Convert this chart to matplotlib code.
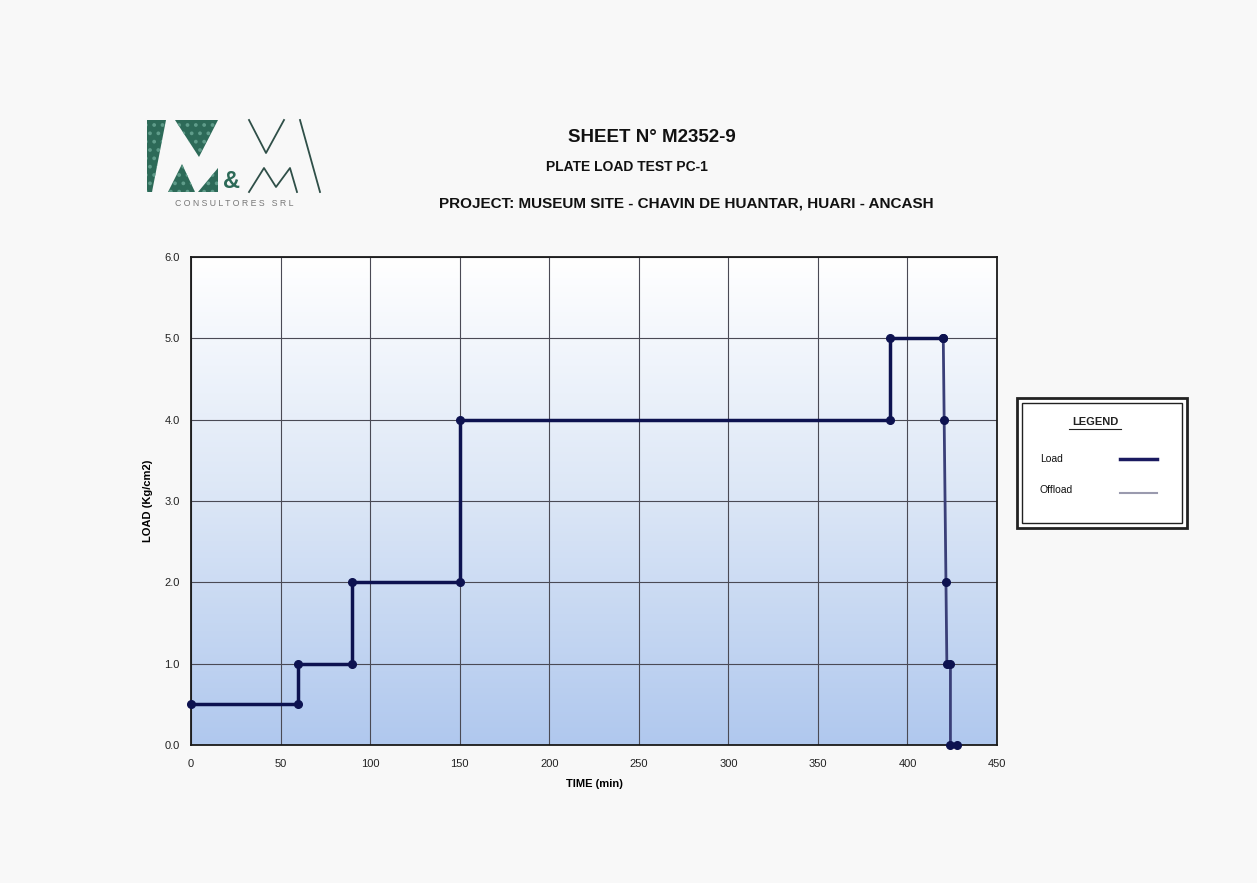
import matplotlib
matplotlib.use("Agg")
import matplotlib.pyplot as plt
import numpy as np
from matplotlib.patches import Polygon, Rectangle
from matplotlib.lines import Line2D
from matplotlib.colors import LinearSegmentedColormap

plt.rcParams['font.family'] = ['Liberation Sans', 'DejaVu Sans']
plt.rcParams['hatch.linewidth'] = 1.5

# Data
load_time = [0, 60, 60, 90, 90, 150, 150, 390, 390, 420]
load_value = [0.5, 0.5, 1.0, 1.0, 2.0, 2.0, 4.0, 4.0, 5.0, 5.0]
offload_time = [420, 420.5, 421.5, 422, 424, 424, 427.5]
offload_value = [5.0, 4.0, 2.0, 1.0, 1.0, 0.0, 0.0]
x_ticks = [0, 50, 100, 150, 200, 250, 300, 350, 400, 450]
y_ticks = [0.0, 1.0, 2.0, 3.0, 4.0, 5.0, 6.0]

W, H = 1257, 883
fig = plt.figure(figsize=(W / 100, H / 100), dpi=100)
fig.patch.set_facecolor('#f8f8f8')

def fx(x):
    return x / W

def fy(y):
    return 1 - y / H

ax = fig.add_axes([fx(191), fy(745), (997 - 191) / W, (745 - 257) / H])
ax.set_xlim(0, 450)
ax.set_ylim(0, 6)

# gradient background
grad = np.linspace(0, 1, 256).reshape(-1, 1)
cmap = LinearSegmentedColormap.from_list('bg', ['#b0c8ee', '#dbe6f6', '#ffffff'])
ax.imshow(grad, extent=[0, 450, 0, 6], origin='lower', aspect='auto', cmap=cmap, zorder=0)

ax.set_xticks(x_ticks)
ax.set_yticks(y_ticks)
ax.set_yticklabels([f"{v:.1f}" for v in y_ticks])
ax.grid(True, color='#4a4a55', linewidth=0.8, zorder=1)
ax.tick_params(length=0, labelsize=8, colors='#222222')
ax.tick_params(axis='x', pad=10)
ax.tick_params(axis='y', pad=8)
for s in ax.spines.values():
    s.set_color('#1a1a1a')
    s.set_linewidth(1.3)

ax.plot(load_time, load_value, color='#0d1250', linewidth=2.5, marker='o',
        markersize=5.5, zorder=3, clip_on=False)
ax.plot(offload_time, offload_value, color='#3a3f78', linewidth=2, marker='o',
        markersize=5.5, markerfacecolor='#0d1250', markeredgecolor='#0d1250',
        zorder=3, clip_on=False)

ax.set_xlabel('TIME (min)', fontsize=8, fontweight='bold', labelpad=7)
ax.set_ylabel('LOAD (Kg/cm2)', fontsize=8, fontweight='bold', labelpad=8)

# Titles
fig.text(fx(652), fy(138), 'SHEET N° M2352-9', ha='center', va='center',
         fontsize=13.5, fontweight='bold', color='#111111')
fig.text(fx(627), fy(167), 'PLATE LOAD TEST PC-1', ha='center', va='center',
         fontsize=10, fontweight='bold', color='#111111')
fig.text(fx(686), fy(203), 'PROJECT: MUSEUM SITE - CHAVIN DE HUANTAR, HUARI - ANCASH',
         ha='center', va='center', fontsize=11, fontweight='bold', color='#111111')

# Legend box
fig.patches.append(Rectangle((fx(1017), fy(528)), (1187 - 1017) / W, (528 - 398) / H,
                             transform=fig.transFigure, facecolor='white',
                             edgecolor='#222222', linewidth=2))
fig.patches.append(Rectangle((fx(1022), fy(523)), (1182 - 1022) / W, (523 - 403) / H,
                             transform=fig.transFigure, facecolor='none',
                             edgecolor='#222222', linewidth=1))
fig.text(fx(1095), fy(422), 'LEGEND', ha='center', va='center', fontsize=8,
         fontweight='bold', color='#222222')
fig.add_artist(Line2D([fx(1069), fx(1121)], [fy(429), fy(429)], color='#222222', linewidth=0.8))
fig.text(fx(1040), fy(459), 'Load', ha='left', va='center', fontsize=7.5, color='#111111')
fig.text(fx(1040), fy(490), 'Offload', ha='left', va='center', fontsize=7.5, color='#111111')
fig.add_artist(Line2D([fx(1120), fx(1157)], [fy(459), fy(459)], color='#1a1a60', linewidth=2.5))
fig.add_artist(Line2D([fx(1120), fx(1157)], [fy(493), fy(493)], color='#9a9aae', linewidth=1.5))

# Logo
teal = '#2d6a58'
def poly(pts):
    p = Polygon([(fx(x), fy(y)) for x, y in pts], closed=True, transform=fig.transFigure,
                facecolor=teal, edgecolor='#5f9c8a', linewidth=0, hatch='..')
    fig.patches.append(p)

poly([(147, 120), (166, 120), (152, 192), (147, 192)])
poly([(175, 120), (218, 120), (199, 157)])
poly([(168, 192), (195, 192), (182, 164)])
poly([(198, 192), (218, 192), (218, 168)])
fig.text(fx(231), fy(182), '&', ha='center', va='center', fontsize=17, color=teal, fontweight='bold')

def line(pts, lw=1.3):
    fig.add_artist(Line2D([fx(x) for x, y in pts], [fy(y) for x, y in pts],
                          color='#2f4f48', linewidth=lw))

line([(249, 120), (266, 153), (284, 120)])
line([(249, 192), (264, 168), (276, 187), (290, 168), (297, 192)])
line([(300, 120), (320, 192)])
fig.text(fx(234), fy(203), 'C O N S U L T O R E S   S R L', ha='center', va='center',
         fontsize=6.3, color='#777777')

fig.savefig('out.png', dpi=100, facecolor=fig.get_facecolor())
